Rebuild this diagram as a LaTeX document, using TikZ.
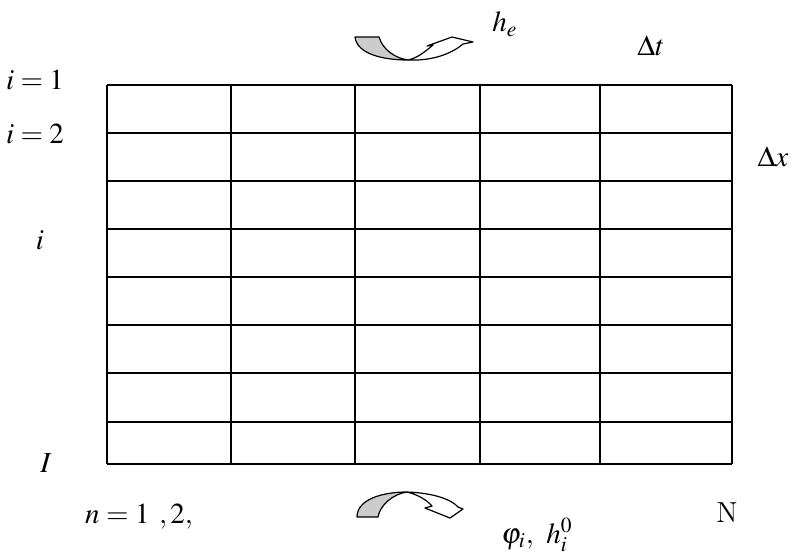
\documentclass[tikz,border=0pt,12pt]{standalone}
\usepackage{mathptmx}
\usepackage{tikz}
\usetikzlibrary{positioning}

\begin{document}
\begin{tikzpicture}[
    x=0.5pt, y=-0.5pt,
    gridline/.style={line width=0.8pt},
    lbl/.style={inner sep=0pt, font=\fontsize{14.5}{17}\selectfont},
    ribbon/.style={draw, line width=0.6pt, line join=round},
    shade/.style={ribbon, fill=gray!40},
    blank/.style={ribbon, fill=white}
]
\useasboundingbox (0,0) rectangle (792,554);

% Grid
\foreach \yy in {85,133,181,229,277,325,373,422,464}
    \draw[gridline] (107,\yy) -- (732,\yy);
\foreach \xx in {107,231,355,480,600,732}
    \draw[gridline] (\xx,85) -- (\xx,464);

% Top curved arrow
\path[blank] (408,60) .. controls (418,58) and (427,50) .. (433,45) -- (427,46) -- (452,37)
    -- (473,42) -- (463,44) .. controls (450,55) and (430,61) .. (408,60) -- cycle;
\path[shade] (355,37) -- (379,37) .. controls (383,50) and (395,58) .. (408,60)
    .. controls (383,60) and (357,54) .. (355,37) -- cycle;

% Bottom curved arrow
\path[blank] (407,492) .. controls (435,493) and (452,500) .. (458,507) -- (463,509) -- (450,518)
    -- (425,508) -- (432,506) .. controls (425,498) and (415,494) .. (407,492) -- cycle;
\path[shade] (357,517) -- (378,517) .. controls (380,505) and (393,494) .. (407,492)
    .. controls (383,492) and (357,499) .. (357,517) -- cycle;

% Row labels
\node[lbl] (ione) at (35,80) {$i=1$};
\node[lbl] (itwo) at (35,134) {$i=2$};
\node[lbl] (irow) at (40,240) {$i$};
\node[lbl] (ilast) at (46,463) {$I$};

% Step labels
\node[lbl] (nstep) at (139,517) {$n=1\ ,2,$};
\node[lbl] (nlast) at (727,513) {N};
\node[lbl] (dx) at (773,157) {$\Delta x$};
\node[lbl] (dt) at (651,46) {$\Delta t$};

% Boundary values
\node[lbl] (he) at (505,24) {$h_e$};
\node[lbl] (init) at (537,535) {$\varphi_i,\ h_i^0$};

\end{tikzpicture}
\end{document}
